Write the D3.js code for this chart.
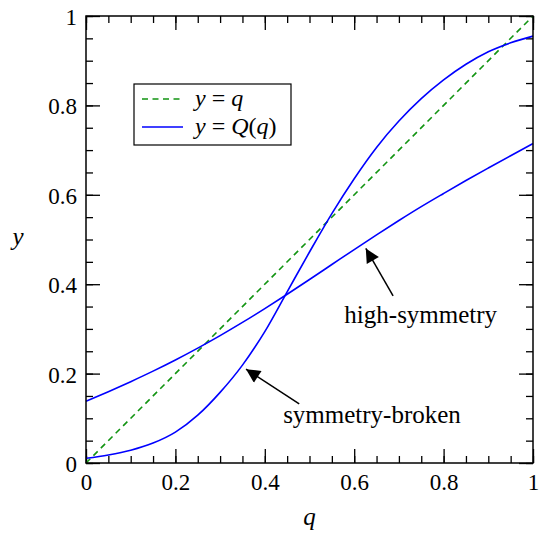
<!DOCTYPE html>
<html>
<head>
<meta charset="utf-8">
<script src="https://cdn.jsdelivr.net/npm/d3@7"></script>
<style>
  body { margin: 0; background: #fff; }
</style>
</head>
<body>
<script>
// values
const qGrid = [0, 0.05, 0.1, 0.15, 0.2, 0.25, 0.3, 0.35, 0.4, 0.45, 0.5,
               0.55, 0.6, 0.65, 0.7, 0.75, 0.8, 0.85, 0.9, 0.95, 1]
const highSym = [0.138, 0.1595, 0.182, 0.2055, 0.2305, 0.257, 0.285, 0.3145, 0.3455, 0.3775, 0.4105,
                 0.444, 0.4775, 0.5105, 0.5425, 0.5735, 0.603, 0.632, 0.660, 0.6875, 0.7145]
const symBroken = [0.0105, 0.018, 0.0285, 0.0445, 0.069, 0.107, 0.158, 0.219, 0.294, 0.383, 0.472,
                   0.558, 0.636, 0.706, 0.765, 0.815, 0.857, 0.892, 0.920, 0.940, 0.955]
const identity = [0, 1]
const majorTicks = [0, 0.2, 0.4, 0.6, 0.8, 1]
const tickLabels = ["0", "0.2", "0.4", "0.6", "0.8", "1"]
const minorTicks = d3.range(0, 1.0001, 0.05).map(v => +v.toFixed(2))

// annotation arrows, in data units
const arrows = [
    {label: "high-symmetry", tail: [0.687, 0.374], tip: [0.626, 0.480], text: [0.578, 0.313]},
    {label: "symmetry-broken", tail: [0.477, 0.132], tip: [0.358, 0.210], text: [0.441, 0.089]}
]

const width = 540, height = 533
const ivp = {x: 86, y: 16, w: 533, h: 463}
const FONT = "Liberation Serif"

const svg = d3.select("body").append("svg")
    .attr("width", width)
    .attr("height", height)
    .attr("font-family", FONT)

const xs = d3.scaleLinear().domain([0, 1]).range([ivp.x, ivp.w])
const ys = d3.scaleLinear().domain([0, 1]).range([ivp.h, ivp.y])

const blue = "#0000ff"
const green = "#129412"

// axes, ticks pointing inwards on all four sides
const fmt = d => tickLabels[majorTicks.indexOf(d)]
function addAxis(axis, tx, ty, labels) {
    const g = svg.append("g").attr("transform", `translate(${tx},${ty})`).call(axis)
    g.attr("font-family", FONT).attr("font-size", 23)
    g.select(".domain").remove()
    g.selectAll("line").attr("stroke", "#000").attr("stroke-width", 1.3)
    g.selectAll("text").attr("font-family", FONT).attr("font-size", 23).attr("fill", "#000")
    if (!labels) g.selectAll("text").remove()
    return g
}
addAxis(d3.axisBottom(xs).tickValues(minorTicks).tickSize(-7), 0, ivp.h, false)
addAxis(d3.axisTop(xs).tickValues(minorTicks).tickSize(-7), 0, ivp.y, false)
addAxis(d3.axisLeft(ys).tickValues(minorTicks).tickSize(-7), ivp.x, 0, false)
addAxis(d3.axisRight(ys).tickValues(minorTicks).tickSize(-7), ivp.w, 0, false)
addAxis(d3.axisBottom(xs).tickValues(majorTicks).tickFormat(fmt).tickSize(-14).tickPadding(11), 0, ivp.h, true)
addAxis(d3.axisTop(xs).tickValues(majorTicks).tickSize(-14), 0, ivp.y, false)
addAxis(d3.axisLeft(ys).tickValues(majorTicks).tickFormat(fmt).tickSize(-14).tickPadding(9), ivp.x, 0, true)
    .selectAll("text").attr("dy", "0.37em")
addAxis(d3.axisRight(ys).tickValues(majorTicks).tickSize(-14), ivp.w, 0, false)

// curves
const line = d3.line()
    .x(d => xs(d[0]))
    .y(d => ys(d[1]))
    .curve(d3.curveMonotoneX)

svg.append("path")
    .datum(identity.map(v => [v, v]))
    .attr("d", line)
    .attr("fill", "none")
    .attr("stroke", green)
    .attr("stroke-width", 1.6)
    .attr("stroke-dasharray", "6,4.5")

;[highSym, symBroken].forEach(series => {
    svg.append("path")
        .datum(qGrid.map((q, i) => [q, series[i]]))
        .attr("d", line)
        .attr("fill", "none")
        .attr("stroke", blue)
        .attr("stroke-width", 1.6)
})

// frame
svg.append("rect")
    .attr("x", ivp.x).attr("y", ivp.y)
    .attr("width", ivp.w - ivp.x).attr("height", ivp.h - ivp.y)
    .attr("fill", "none").attr("stroke", "#000").attr("stroke-width", 1.5)

// arrows
svg.append("defs").append("marker")
    .attr("id", "head")
    .attr("viewBox", "0 0 10 10")
    .attr("refX", 10).attr("refY", 5)
    .attr("markerUnits", "userSpaceOnUse")
    .attr("markerWidth", 17).attr("markerHeight", 14)
    .attr("orient", "auto")
    .append("path").attr("d", "M0,0 L10,5 L0,10 Z").attr("fill", "#000")

arrows.forEach(a => {
    svg.append("line")
        .attr("x1", xs(a.tail[0])).attr("y1", ys(a.tail[1]))
        .attr("x2", xs(a.tip[0])).attr("y2", ys(a.tip[1]))
        .attr("stroke", "#000").attr("stroke-width", 1.5)
        .attr("marker-end", "url(#head)")
    svg.append("text")
        .attr("x", xs(a.text[0])).attr("y", ys(a.text[1]))
        .attr("font-family", FONT).attr("font-size", 25)
        .text(a.label)
})

// axis titles
svg.append("text")
    .attr("x", (ivp.x + ivp.w) / 2).attr("y", 525)
    .attr("text-anchor", "middle")
    .attr("font-family", FONT).attr("font-size", 25).attr("font-style", "italic")
    .text("q")
svg.append("text")
    .attr("x", 18).attr("y", 245)
    .attr("text-anchor", "middle")
    .attr("font-family", FONT).attr("font-size", 25).attr("font-style", "italic")
    .text("y")

// legend
const lg = svg.append("g")
lg.append("rect")
    .attr("x", 134).attr("y", 84).attr("width", 157).attr("height", 61)
    .attr("fill", "#fff").attr("stroke", "#000").attr("stroke-width", 1.2)
const entries = [
    {color: green, dash: "6,4.5", parts: [["y", true], [" = ", false], ["q", true]]},
    {color: blue, dash: null, parts: [["y", true], [" = ", false], ["Q", true], ["(", false], ["q", true], [")", false]]}
]
entries.forEach((e, i) => {
    const yy = 99 + i * 28
    lg.append("line")
        .attr("x1", 142).attr("x2", 183).attr("y1", yy).attr("y2", yy)
        .attr("stroke", e.color).attr("stroke-width", 1.6)
        .attr("stroke-dasharray", e.dash)
    const t = lg.append("text").attr("x", 195).attr("y", yy + 7)
        .attr("font-family", FONT).attr("font-size", 24)
    e.parts.forEach(p => {
        t.append("tspan").attr("font-style", p[1] ? "italic" : "normal").text(p[0])
    })
})
</script>
</body>
</html>
